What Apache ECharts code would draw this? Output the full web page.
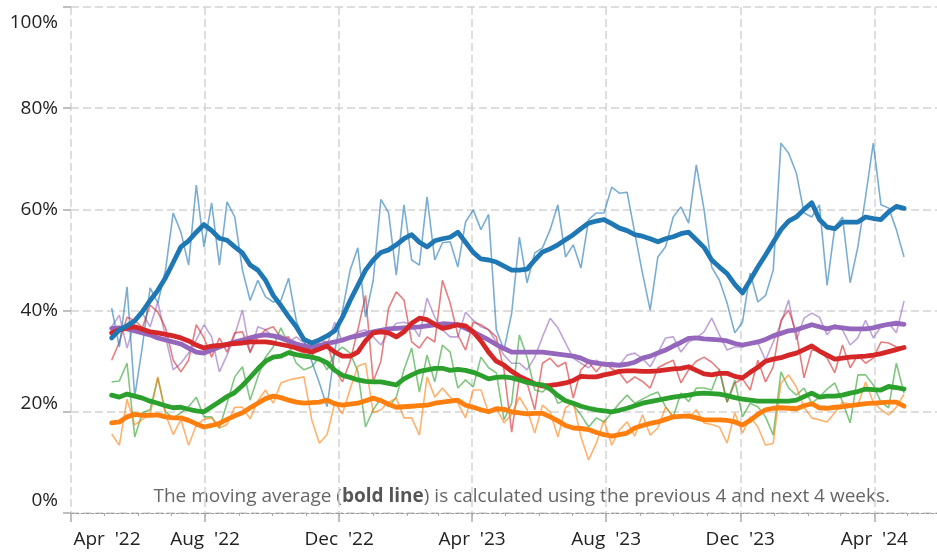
<!DOCTYPE html>
<html>
<head>
<meta charset="utf-8">
<script src="https://cdn.jsdelivr.net/npm/echarts@6/dist/echarts.min.js"></script>
<style>
  html, body { margin: 0; padding: 0; background: #fff; }
  #chart { width: 937px; height: 553px; }
</style>
</head>
<body>
<div id="chart"></div>
<script>
// weekly observations, first week 8 May 2022, last 28 Apr 2024
var firstWeek = Date.UTC(2022, 4, 8);
var weekCount = 104;

var tickDates = [Date.UTC(2022,3,1), Date.UTC(2022,7,1), Date.UTC(2022,11,1), Date.UTC(2023,3,1),
                 Date.UTC(2023,7,1), Date.UTC(2023,11,1), Date.UTC(2024,3,1)];
var tickLabels = ["Apr  '22", "Aug  '22", "Dec  '22", "Apr  '23", "Aug  '23", "Dec  '23", "Apr  '24"];

// thin lines: weekly values (%)
var blueRaw = [
  40.5, 32.8, 44.7, 23, 33, 44.5, 41.5, 48, 59.3, 55.5,
  49, 64.8, 52.6, 61.3, 49, 61.5, 58.5, 48, 42, 46,
  42.7, 41.7, 42, 46.4, 38, 34, 30, 25.7, 21, 32,
  40, 48, 52.4, 38.7, 46, 62, 59.3, 47, 60.9, 50,
  49, 62.5, 50, 53.4, 53.6, 48.6, 57.5, 59.9, 56, 59,
  36.2, 32.2, 39.5, 54.5, 45.5, 51.4, 52.4, 56, 60.9, 50.6,
  53, 48.4, 58, 59.3, 59.3, 64.4, 63.2, 63.4, 55.3, 47.4,
  40.1, 50.6, 52.6, 58.5, 60.5, 57.3, 68.8, 60, 48.6, 46,
  41.5, 35.6, 37.7, 47.4, 41.7, 43, 48, 73.1, 71.1, 67.2,
  59.3, 58.5, 60.9, 45, 56.5, 58.5, 45.5, 52.6, 62.5, 73.1,
  60.9, 60.3, 56, 50.6
];
var purpleRaw = [
  36.8, 39.1, 32.6, 37.7, 39.5, 36.8, 41.7, 34.8, 28.3, 29.6,
  31.6, 34.2, 37.2, 34.8, 27.9, 31.2, 35.2, 40.1, 31.6, 36.8,
  36.2, 34.8, 35.2, 33.8, 34.8, 33.6, 32.8, 33, 33.2, 37.7,
  33.8, 34.8, 35.8, 36.2, 34.8, 33.2, 35.8, 37.5, 37.7, 37.2,
  34.8, 42.5, 38.7, 36.2, 34.8, 34.8, 39.7, 38.1, 36.8, 36.2,
  33.8, 31.2, 29.6, 29.6, 28.3, 30.8, 34.8, 38.5, 36.6, 33.6,
  30.6, 29.6, 28.7, 30.2, 29.2, 29.8, 29.2, 31.2, 31.6, 30.5,
  28.9, 31.6, 34.6, 34.8, 31.8, 33.8, 34.6, 35.8, 38.5, 35.2,
  32.2, 32.8, 32.8, 33.6, 33.6, 30.2, 33.8, 37.5, 42.1, 34.2,
  38.5, 39.5, 38.7, 35.2, 37.2, 36.2, 33.2, 34.6, 38.1, 34.6,
  36.8, 37.5, 35.6, 41.9
];
var redRaw = [
  30.2, 33.8, 38.7, 38.1, 36.6, 41.1, 39.7, 36.6, 30.2, 27.9,
  30.2, 37.2, 34.6, 30.8, 34.6, 31.8, 35.6, 35.8, 31.8, 34.8,
  36.2, 36.8, 34.6, 34.8, 32.2, 31.6, 30.8, 34.2, 33.8, 28.3,
  25.9, 30, 36.2, 43, 26, 30, 40.5, 43.7, 42.1, 33.8,
  32.6, 34.8, 33.8, 46, 41.5, 35.2, 32.2, 37.7, 37.2, 36.2,
  34.8, 28.3, 16, 26.7, 25.7, 20.4, 29.6, 30.6, 28.9, 29.8,
  22.7, 28.3, 29.8, 27.9, 29.8, 28.5, 27.7, 25.7, 26.9, 26,
  24.7, 28.7, 29.5, 30.2, 25.7, 28.3, 30, 30.8, 29.8, 28.3,
  21.9, 25.7, 26.5, 24.3, 30.2, 25.9, 28.9, 38.1, 40.1, 35.6,
  26.7, 32.2, 32, 30.6, 27.7, 33.2, 28.7, 31.2, 29.6, 30.6,
  33.8, 33.6, 32.8, 32.8
];
var greenRaw = [
  25.9, 26.1, 29.6, 15, 19.8, 20.4, 26.7, 20, 18.8, 19.8,
  21, 22.9, 19, 19, 16.8, 21.7, 26.9, 28.9, 22.3, 26.9,
  30.8, 32.8, 36.6, 33.2, 29.6, 28.3, 28.9, 30.8, 28.3, 31.6,
  32.8, 31.6, 28, 17, 20.4, 22.7, 21, 22.9, 28.3, 32.6,
  23.9, 31.2, 25.9, 33.2, 31.8, 24.7, 26.3, 24.9, 30.8, 28.7,
  27.7, 18.4, 21.7, 35.2, 30.8, 24.3, 23.9, 25.3, 21.7, 22.3,
  21.3, 19.4, 17, 18.8, 18, 19.8, 21.7, 23.3, 21.7, 22.5,
  23.3, 23.9, 21, 19, 23.7, 22, 24.7, 24.7, 24.3, 28.3,
  21.9, 26.3, 19, 21.7, 21, 19, 15.4, 27.9, 24.7, 23.3,
  24.7, 21.7, 22.9, 24.5, 25.7, 22, 17.8, 27.3, 27.3, 25.3,
  21.9, 20.8, 29.6, 23.7
];
var orangeRaw = [
  15.6, 13.4, 22.5, 17.4, 18.5, 19.4, 26.9, 19.5, 15.5, 18.5,
  13.4, 17.4, 18.5, 18.8, 16.8, 17.5, 20.9, 20.9, 18.6, 22.2,
  24.3, 21.7, 25.7, 26.3, 26.6, 26.9, 18.5, 13.8, 15.5, 21.7,
  19.6, 24.5, 29, 29.6, 19.8, 20.4, 21.9, 22.7, 18.8, 18.8,
  15.4, 26.9, 22.9, 24.7, 22.9, 21.7, 18.8, 24.3, 24.3, 19.8,
  20.8, 17.8, 19.5, 22.9, 20.4, 15.8, 21.3, 20, 15, 20.8,
  21.9, 15, 10.5, 13.8, 18.4, 13.4, 16.4, 18, 15.2, 19.4,
  15.4, 16.8, 20.9, 19, 19, 18.8, 20.4, 17.8, 17.5, 17,
  13.8, 19.8, 15.8, 19, 17, 13.4, 13.8, 25.7, 27.3, 24.9,
  20.9, 18.8, 18.4, 18, 19.8, 21.9, 21.5, 21.3, 25.9, 21.9,
  20.4, 19.4, 20.9, 23.5
];

// bold lines: moving averages as drawn (%)
var blueAvg = [
  34.6, 36.2, 37, 38, 39.8, 42, 44, 46.5, 49.5, 52.6,
  53.8, 55.5, 57, 55.8, 54.3, 53.9, 52.6, 51.4, 49, 48,
  46, 43, 41, 38.8, 36.8, 34.3, 33.6, 34.2, 35, 36,
  38.7, 42, 45, 48, 50, 51.5, 52, 53, 54.2, 55,
  53.5, 52.6, 53.8, 54.2, 54.5, 55.5, 53.5, 51.5, 50.2, 50,
  49.6, 48.8, 48, 48, 48.2, 50, 51.6, 52.2, 53, 54,
  55, 56.2, 57.3, 57.7, 58, 57.2, 56.3, 55.8, 55, 54.7,
  54.2, 53.6, 54.2, 54.6, 55.2, 55.5, 54, 52.5, 50, 48.6,
  47.3, 45.2, 43.5, 46, 48.6, 51, 53.5, 56, 57.7, 58.5,
  60, 61.3, 58, 56.5, 56.2, 57.5, 57.5, 57.5, 58.5, 58.2,
  58, 59.5, 60.6, 60.2
];
var purpleAvg = [
  36.5, 36.6, 36.4, 36, 35.6, 35.2, 34.6, 34.2, 33.8, 33.4,
  32.6, 31.8, 31.6, 32.2, 32.8, 33.3, 33.8, 34.2, 34.6, 35,
  35.2, 35, 34.6, 34, 33.4, 33, 32.8, 33.1, 33.5, 33.8,
  34.2, 34.7, 35, 35.4, 35.8, 36.1, 36.4, 36.5, 36.6, 36.7,
  36.8, 37, 37.2, 37.4, 37.3, 37.2, 36.5, 35.8, 35, 34.2,
  33.3, 32.5, 31.8, 31.8, 31.8, 31.8, 31.8, 31.6, 31.4, 31.2,
  31, 30.6, 29.9, 29.6, 29.4, 29.3, 29.2, 29.4, 29.8, 30.6,
  31, 31.6, 32.2, 33, 33.7, 34.5, 34.6, 34.4, 34.3, 34.2,
  34, 33.5, 33.2, 33.5, 33.8, 34.3, 35, 35.5, 36, 36.2,
  36.7, 37.2, 36.8, 36.4, 36.8, 36.6, 36.4, 36.4, 36.4, 36.6,
  37, 37.3, 37.5, 37.3
];
var redAvg = [
  35.6, 36.2, 36.6, 36.8, 36.3, 35.8, 35.6, 35.3, 35, 34.6,
  34, 33.2, 32.6, 33, 33.1, 33.3, 33.5, 33.6, 33.8, 33.8,
  33.8, 33.6, 33.3, 33, 32.6, 32.2, 31.8, 32.4, 33, 31.8,
  31, 31, 31.8, 34, 35.6, 35.8, 35.6, 34.8, 35.8, 37.5,
  38.5, 38.2, 37.3, 36.5, 36.8, 37.2, 37, 35.8, 34, 31.8,
  30, 29.2, 28, 27, 26.3, 25.5, 25.1, 25.2, 25.4, 25.7,
  26.2, 27, 26.9, 26.9, 27.3, 27.6, 28, 28.1, 28.1, 28,
  28, 28.1, 28.3, 28.5, 28.6, 28.9, 28.2, 27.5, 27.3, 27.6,
  27.6, 27, 26.7, 27.8, 28.8, 30, 30.4, 30.7, 31.2, 31.6,
  32.3, 33, 32, 31.2, 30.4, 30.6, 30.8, 30.9, 31, 31.2,
  31.5, 31.9, 32.3, 32.7
];
var greenAvg = [
  23.3, 22.9, 23.5, 23.1, 22.7, 22.1, 21.7, 21.2, 20.8, 20.9,
  20.5, 20.2, 20, 21, 22, 23, 23.8, 25.2, 26.8, 28.5,
  30, 30.8, 31, 31.7, 31.3, 31, 30.8, 30.4, 29.7, 28.2,
  27.2, 26.8, 26.3, 26, 25.9, 25.9, 25.6, 25.3, 26.5, 27.3,
  28, 28.3, 28.6, 28.6, 28.2, 28.4, 28.2, 27.8, 27.2, 26.5,
  26.8, 26.9, 26.7, 26.3, 25.8, 25.5, 25.3, 24.5, 23.2, 22.2,
  21.7, 21.1, 20.7, 20.4, 20.2, 20, 20.3, 20.7, 21.2, 21.7,
  22, 22.3, 22.6, 22.9, 23.1, 23.3, 23.6, 23.7, 23.6, 23.5,
  23.2, 22.8, 22.5, 22.3, 22.1, 22.1, 22.1, 22.1, 22.1, 22.3,
  23, 23.7, 22.9, 23.1, 23.1, 23.3, 23.7, 24, 24.5, 24.4,
  24.3, 25, 24.8, 24.5
];
var orangeAvg = [
  17.8, 18, 19, 19.5, 19.3, 19.3, 19.4, 19, 18.8, 18.8,
  18.3, 17.6, 17, 17.3, 17.7, 18.5, 19.2, 19.8, 20.8, 21.7,
  22.6, 23.1, 22.8, 22.3, 21.9, 21.7, 21.8, 21.9, 22.3, 21.6,
  21.3, 21.5, 21.7, 22.2, 22.7, 22.2, 21.5, 20.9, 21, 21.1,
  21.2, 21.3, 21.7, 21.9, 22.1, 22.3, 21.3, 20.9, 20.4, 20,
  20.6, 20.5, 20, 19.8, 19.6, 19.7, 19.7, 19, 18.2, 17.3,
  16.8, 16.7, 16.5, 15.9, 15.5, 15.2, 15.5, 15.8, 16.8, 17.3,
  17.7, 18, 18.5, 19, 19.1, 19.2, 18.8, 18.4, 18.4, 18.4,
  18.3, 18, 17.4, 18.3, 19.5, 20.4, 20.7, 20.8, 20.7, 20.6,
  21.2, 21.6, 20.8, 20.7, 20.9, 21, 21.2, 21.4, 21.6, 21.7,
  21.8, 21.9, 21.9, 21.1
];

var weeks = [];
for (var i = 0; i < weekCount; i++) weeks.push(firstWeek + i * 7 * 86400000);

// monthly minor ticks, May '22 .. May '24
var monthTicks = [];
for (var m = 0; m < 25; m++) monthTicks.push(Date.UTC(2022, 4 + m, 1));

var xMin = Date.UTC(2022, 3, 1);
var xMax = Date.UTC(2024, 4, 28);

function pairs(arr) {
  return arr.map(function (v, i) { return [weeks[i], v]; });
}

var font = "'Open Sans', 'Noto Sans', sans-serif";
var gridColor = '#d4d4d4';

function thin(name, arr, color) {
  return {
    name: name, type: 'line', data: pairs(arr), showSymbol: false, silent: true,
    lineStyle: { width: 1.6, color: color, opacity: 0.6 }
  };
}
function bold(name, arr, color) {
  return {
    name: name, type: 'line', data: pairs(arr), showSymbol: false, silent: true,
    lineStyle: { width: 4.8, color: color, cap: 'round', join: 'round' }
  };
}

var chart = echarts.init(document.getElementById('chart'), null, { renderer: 'canvas' });
chart.setOption({
  animation: false,
  backgroundColor: '#fff',
  grid: { left: 71, right: 0, top: 7, bottom: 40, containLabel: false },
  xAxis: [
    {
      type: 'value',
      min: xMin,
      max: xMax,
      axisLine: { show: true, lineStyle: { color: '#999', type: [3, 2], width: 1 } },
      axisTick: { show: true, customValues: tickDates, length: 9, lineStyle: { color: '#aaa', width: 1.5 } },
      splitLine: { show: true, lineStyle: { color: gridColor, type: [8, 4], width: 1.5 } },
      axisLabel: {
        customValues: tickDates,
        margin: 17,
        color: '#222',
        fontSize: 19,
        fontFamily: font,
        formatter: function (v) {
          var k = tickDates.indexOf(v);
          if (k === 0) return '{first|' + tickLabels[0] + '}';
          return k >= 0 ? tickLabels[k] : '';
        },
        rich: {
          first: { fontSize: 19, fontFamily: font, color: '#222', padding: [0, 0, 0, 72] }
        }
      }
    },
    {
      type: 'value',
      gridIndex: 0,
      position: 'bottom',
      min: xMin,
      max: xMax,
      axisLine: { show: false },
      axisLabel: { show: false },
      splitLine: { show: false },
      axisTick: { show: true, customValues: monthTicks, length: 3, lineStyle: { color: '#aaa', width: 1 } }
    }
  ],
  yAxis: {
    type: 'value',
    min: 0,
    max: 100,
    interval: 20,
    axisLine: { show: false },
    axisTick: { show: true, length: 8, lineStyle: { color: '#aaa', width: 1.5 } },
    splitLine: { show: true, lineStyle: { color: gridColor, type: [8, 4], width: 1.5 } },
    axisLabel: {
      margin: 13,
      color: '#222',
      fontSize: 19,
      fontFamily: font,
      formatter: function (v) {
        if (v === 100) return '{top|100%}';
        if (v === 20) return '{low|20%}';
        if (v === 0) return '{bot|0%}';
        return v + '%';
      },
      rich: {
        top: { fontSize: 19, fontFamily: font, color: '#222', padding: [32, 0, 0, 0] },
        low: { fontSize: 19, fontFamily: font, color: '#222', padding: [0, 0, 16, 0] },
        bot: { fontSize: 19, fontFamily: font, color: '#222', padding: [0, 0, 24, 0] }
      }
    }
  },
  graphic: [{
    type: 'text',
    right: 47,
    top: 487,
    silent: true,
    style: {
      text: '{n|The moving average (}{b|bold line}{n|) is calculated using the previous 4 and next 4 weeks.}',
      rich: {
        n: { fontSize: 19, fontFamily: font, fill: '#666' },
        b: { fontSize: 19, fontFamily: font, fill: '#555', fontWeight: 'bold' }
      }
    }
  }],
  series: [
    thin('purple', purpleRaw, '#9467bd'),
    thin('red', redRaw, '#d62728'),
    thin('green', greenRaw, '#2ca02c'),
    thin('orange', orangeRaw, '#ff7f0e'),
    thin('blue', blueRaw, '#1f77b4'),
    bold('purple avg', purpleAvg, '#9467bd'),
    bold('red avg', redAvg, '#d62728'),
    bold('green avg', greenAvg, '#2ca02c'),
    bold('orange avg', orangeAvg, '#ff7f0e'),
    bold('blue avg', blueAvg, '#1f77b4')
  ]
});
</script>
</body>
</html>
